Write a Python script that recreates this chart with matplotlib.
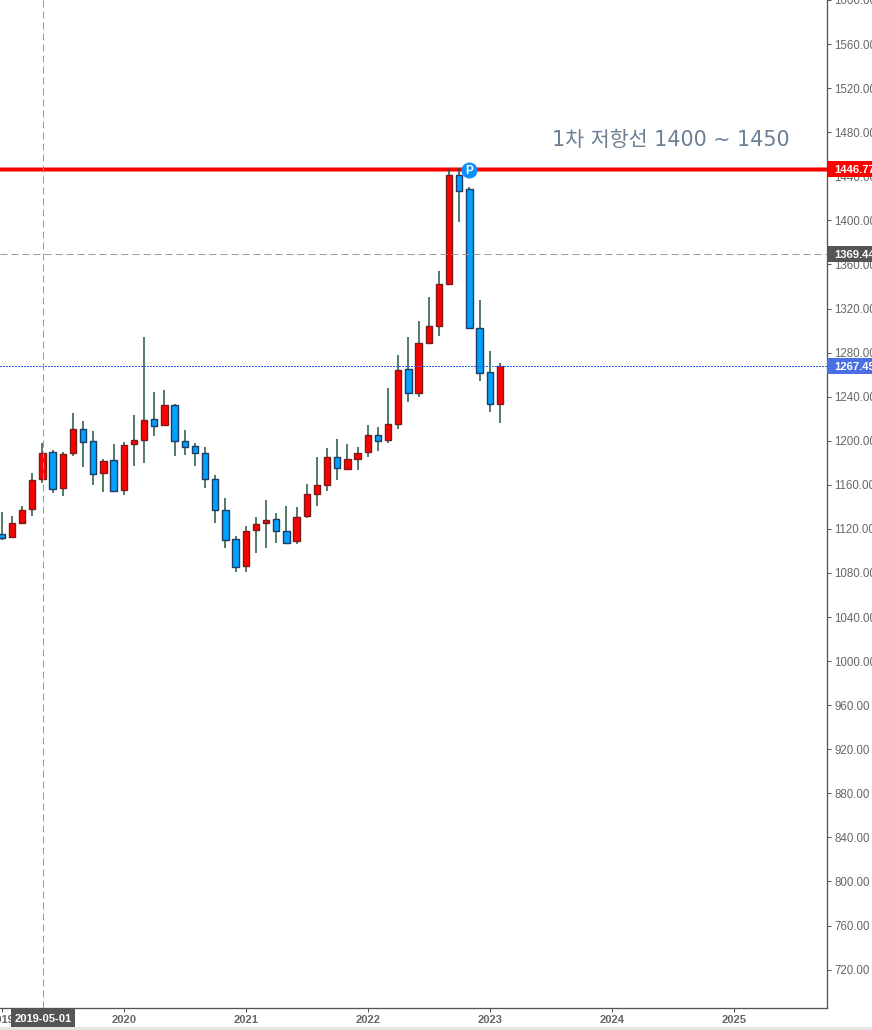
import matplotlib
matplotlib.use("Agg")
import matplotlib.pyplot as plt
from matplotlib.patches import Rectangle

W, H = 872, 1030
AX_W, AX_H = 827, 1008

# Monthly candles from January 2019
opens = [1115.2, 1112.5, 1125.8, 1137.9, 1165.1, 1189.6, 1156.9, 1188.7, 1210.4, 1199.6,
         1170.5, 1182.3, 1155.1, 1196.8, 1200.5, 1219.5, 1214.1, 1232.2, 1199.6, 1195.0,
         1188.7, 1165.1, 1137.0, 1110.7, 1086.2, 1118.8, 1124.9, 1128.8, 1118.0, 1108.6,
         1131.3, 1152.1, 1159.4, 1185.1, 1174.8, 1183.0, 1190.2, 1205.0, 1201.1, 1215.6,
         1264.8, 1243.1, 1288.4, 1303.8, 1341.9, 1440.8, 1428.1, 1302.0, 1262.1, 1233.1]
closes = [1111.6, 1125.2, 1137.0, 1164.2, 1188.7, 1156.0, 1187.8, 1210.4, 1198.7, 1169.6,
          1181.4, 1154.2, 1195.9, 1200.5, 1218.6, 1213.2, 1232.2, 1199.6, 1194.1, 1188.7,
          1165.1, 1137.0, 1109.8, 1085.3, 1117.9, 1124.3, 1127.9, 1118.0, 1107.1, 1130.7,
          1151.5, 1159.7, 1185.1, 1175.1, 1183.3, 1188.7, 1205.0, 1200.2, 1215.0, 1263.9,
          1243.1, 1288.4, 1303.8, 1341.9, 1440.8, 1426.3, 1302.0, 1261.2, 1233.1, 1267.45]
highs = [1135.5, 1131.8, 1140.9, 1170.8, 1197.7, 1191.7, 1189.9, 1225.3, 1218.0, 1208.9,
         1183.5, 1197.1, 1199.0, 1223.4, 1294.2, 1244.3, 1246.1, 1233.4, 1209.8, 1198.0,
         1194.4, 1169.0, 1148.2, 1113.7, 1122.8, 1130.9, 1146.4, 1134.6, 1140.9, 1140.0,
         1160.9, 1185.4, 1193.6, 1201.7, 1197.2, 1194.5, 1214.4, 1212.6, 1247.9, 1277.8,
         1294.2, 1308.7, 1330.5, 1354.0, 1446.3, 1447.2, 1429.9, 1327.7, 1281.5, 1270.3]
lows = [1109.5, 1112.0, 1124.9, 1132.1, 1161.2, 1153.0, 1149.4, 1186.6, 1176.6, 1160.2,
        1153.9, 1153.9, 1151.2, 1177.5, 1180.2, 1204.7, 1214.1, 1185.7, 1187.5, 1177.5,
        1157.5, 1125.8, 1103.1, 1081.3, 1081.3, 1097.7, 1103.1, 1106.8, 1106.8, 1105.9,
        1129.5, 1141.2, 1154.0, 1164.8, 1173.9, 1173.9, 1184.8, 1191.1, 1198.4, 1211.0,
        1235.5, 1240.0, 1288.4, 1295.4, 1341.9, 1398.8, 1302.0, 1254.6, 1226.4, 1216.5]

price_ticks = list(range(720, 1601, 40))
year_labels = ["2019", "2020", "2021", "2022", "2023", "2024", "2025"]
year_positions = [0, 12, 24, 36, 48, 60, 72]

resistance_level = 1446.77
prior_level = 1369.44
last_close = 1267.45
cursor_index = 4.08
cursor_label = "2019-05-01"
pivot_index = 46
note = "1차 저항선 1400 ~ 1450"

RED, BLUE = "#ff0000", "#00a2ff"
RED_EDGE, BLUE_EDGE = "#7a1c1c", "#1f3a63"
WICK = "#1d5238"
TEXT = "#666666"
FONT = ["Liberation Sans", "DejaVu Sans"]

fig = plt.figure(figsize=(W / 100, H / 100), dpi=100, facecolor="white")
ax = fig.add_axes([0, 1 - AX_H / H, AX_W / W, AX_H / H])

# One month spans 10.165 px; the price scale spans 1.1024 px per unit
ax.set_xlim(12 - 123.8 / 10.165, 12 + (AX_W - 123.8) / 10.165)
ax.set_ylim(1560 - (AX_H - 43.6) / 1.1024, 1560 + 43.6 / 1.1024)

px = 72 / 100
for i, (o, c, h, l) in enumerate(zip(opens, closes, highs, lows)):
    up = c >= o
    ax.plot([i, i], [l, h], color=WICK, lw=1.5 * px, solid_capstyle="butt", zorder=3)
    ax.add_patch(Rectangle((i - 0.31, min(o, c)), 0.62, max(abs(c - o), 0.5),
                           facecolor=RED if up else BLUE,
                           edgecolor=RED_EDGE if up else BLUE_EDGE,
                           lw=1.4 * px, zorder=4))

# Horizontal price levels and the vertical cursor line
ax.axhline(resistance_level, color="#ff7a7a", lw=5 * px, zorder=2)
ax.axhline(resistance_level, color="#ff0000", lw=3 * px, zorder=2)
ax.axhline(prior_level, color="#999999", lw=1 * px, dashes=(7, 4), zorder=5)
ax.axhline(last_close, color="#2f63f0", lw=1 * px, dashes=(2, 2), antialiased=False, zorder=5)
ax.axvline(cursor_index, color="#999999", lw=1 * px, dashes=(7, 4), zorder=5)

# Pivot badge on the resistance line
ax.plot([pivot_index], [resistance_level - 1], "o", ms=16 * px, color="#0a8fff",
        mec="none", zorder=6)
ax.text(pivot_index, resistance_level - 1, "P", color="white", fontsize=8.5, fontweight="bold",
        ha="center", va="center_baseline", family=FONT, zorder=7)

ax.text(12 + (551.5 - 123.8) / 10.165, 1599.9 - 0.9071 * 139.5, note, color="#6a7f94",
        fontsize=14.85, va="center", ha="left",
        family=["DejaVu Sans", "Noto Sans CJK KR"], zorder=6)

for s in ("top", "left"):
    ax.spines[s].set_visible(False)
for s in ("right", "bottom"):
    ax.spines[s].set_color("#555555")
    ax.spines[s].set_linewidth(1.3 * px)

ax.yaxis.tick_right()
ax.set_yticks(price_ticks)
ax.set_yticklabels([f"{v}.00" for v in price_ticks])
ax.set_xticks(year_positions)
ax.set_xticklabels(year_labels)
ax.tick_params(axis="y", length=4 * px, width=1 * px, color="#555555", pad=2.6,
               labelsize=8.3, labelcolor=TEXT)
ax.tick_params(axis="x", length=4 * px, width=1 * px, color="#555555", pad=2.2,
               labelsize=8, labelcolor=TEXT)
for t in ax.get_xticklabels() + ax.get_yticklabels():
    t.set_family(FONT)
for t in ax.get_xticklabels():
    t.set_fontweight("bold")

# Value tags on the price scale
trans = ax.get_yaxis_transform()
for level, colour in ((resistance_level, "#ff0000"), (prior_level, "#555555"), (last_close, "#4a6fe3")):
    ax.add_patch(Rectangle((1, level - 7.2), 45 / AX_W, 14.4, transform=trans, facecolor=colour,
                           edgecolor="none", clip_on=False, zorder=10))
    ax.text(1 + 7 / AX_W, level, f"{level:.2f}", transform=trans, color="white", fontsize=8.1,
            fontweight="bold", ha="left", va="center_baseline", family=FONT, zorder=11, clip_on=False)

# Cursor date tag on the time scale
fig.patches.append(Rectangle((11 / W, 3 / H), 64 / W, 19 / H, transform=fig.transFigure,
                             facecolor="#555555", edgecolor="none", zorder=10))
fig.text(43 / W, 12.5 / H, cursor_label, color="white", fontsize=8, fontweight="bold",
         ha="center", va="center_baseline", family=FONT, zorder=11)

# Strip along the bottom edge
fig.patches.append(Rectangle((0, 0), 1, 3 / H, transform=fig.transFigure,
                             facecolor="#e6e6e6", edgecolor="none", zorder=12))

fig.savefig("out.png", dpi=100)
